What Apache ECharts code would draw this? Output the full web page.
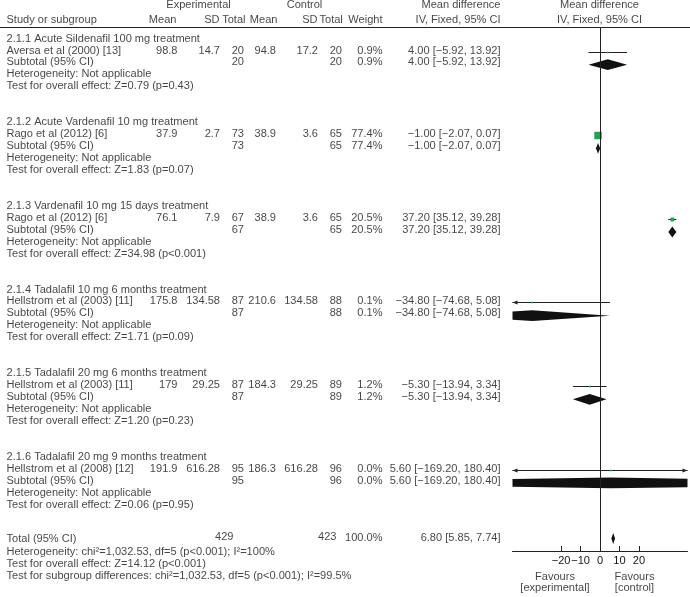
<!DOCTYPE html>
<html>
<head>
<meta charset="utf-8">
<script src="https://cdn.jsdelivr.net/npm/echarts@6/dist/echarts.min.js"></script>
<style>html,body{margin:0;padding:0;background:#fff}#c{width:690px;height:597px}</style>
</head>
<body>
<div id="c"></div>
<script>
// ---------------- data ----------------
const groupTitles = [
  '2.1.1 Acute Sildenafil 100 mg treatment',
  '2.1.2 Acute Vardenafil 10 mg treatment',
  '2.1.3 Vardenafil 10 mg 15 days treatment',
  '2.1.4 Tadalafil 10 mg 6 months treatment',
  '2.1.5 Tadalafil 20 mg 6 months treatment',
  '2.1.6 Tadalafil 20 mg 9 months treatment'
];
const studies = [
  'Aversa et al (2000) [13]',
  'Rago et al (2012) [6]',
  'Rago et al (2012) [6]',
  'Hellstrom et al (2003) [11]',
  'Hellstrom et al (2003) [11]',
  'Hellstrom et al (2008) [12]'
];
const expMean = ['98.8', '37.9', '76.1', '175.8', '179', '191.9'];
const expSD = ['14.7', '2.7', '7.9', '134.58', '29.25', '616.28'];
const expTotal = [20, 73, 67, 87, 87, 95];
const ctlMean = ['94.8', '38.9', '38.9', '210.6', '184.3', '186.3'];
const ctlSD = ['17.2', '3.6', '3.6', '134.58', '29.25', '616.28'];
const ctlTotal = [20, 65, 65, 88, 89, 96];
const weights = [0.9, 77.4, 20.5, 0.1, 1.2, 0.0];
const md = [4.00, -1.00, 37.20, -34.80, -5.30, 5.60];
const ciLow = [-5.92, -2.07, 35.12, -74.68, -13.94, -169.20];
const ciHigh = [13.92, 0.07, 39.28, 5.08, 3.34, 180.40];
const overallEffect = ['Z=0.79 (p=0.43)', 'Z=1.83 (p=0.07)', 'Z=34.98 (p<0.001)', 'Z=1.71 (p=0.09)', 'Z=1.20 (p=0.23)', 'Z=0.06 (p=0.95)'];
const totalN = [429, 423];
const totalWeight = 100.0;
const totalMD = [6.80, 5.85, 7.74];
const totalLines = [
  'Heterogeneity: chi\u00B2=1,032.53, df=5 (p<0.001); I\u00B2=100%',
  'Test for overall effect: Z=14.12 (p<0.001)',
  'Test for subgroup differences: chi\u00B2=1,032.53, df=5 (p<0.001); I\u00B2=99.5%'
];
const axisTicks = [-20, -10, 0, 10, 20];
const xRange = [-45, 45];

// ---------------- layout ----------------
const W = 690, H = 597;
const ROW0 = 39, ROWH = 11.95;
const FX0 = 512.5, FW = 175, AXIS_Y = 551;
const FONT = "'Liberation Sans', Arial, Helvetica, sans-serif";
const FS = 11.05;
const TXT = '#141414';
const GREEN = '#1ea54b';
const COL = {name: 7, expMean: 178, expSD: 220.5, expTotal: 244.5, ctlMean: 276.5, ctlSD: 318.5, ctlTotal: 342.5, weight: 383, md: 501, plot: 600};

function fmt(v, d) { const s = Math.abs(v).toFixed(d); return v < 0 ? '\u2212' + s : s; }
function mdText(m, lo, hi) { return fmt(m, 2) + ' [' + fmt(lo, 2) + ', ' + fmt(hi, 2) + ']'; }

// ---------------- text cells ----------------
const texts = [];
function T(x, row, t, align) { texts.push({value: [x, row], t: String(t), align: align || 'right'}); }

// headers
T(199, -2.8, 'Experimental', 'center');
T(305, -2.8, 'Control', 'center');
T(COL.md, -2.8, 'Mean difference');
T(COL.plot, -2.8, 'Mean difference', 'center');
T(COL.name, -1.55, 'Study or subgroup', 'left');
T(177, -1.55, 'Mean');
T(220, -1.55, 'SD');
T(246, -1.55, 'Total');
T(278, -1.55, 'Mean');
T(318, -1.55, 'SD');
T(343.3, -1.55, 'Total');
T(COL.weight, -1.55, 'Weight');
T(COL.md, -1.55, 'IV, Fixed, 95% CI');
T(COL.plot, -1.55, 'IV, Fixed, 95% CI', 'center');

const studyRows = [], subRows = [];
groupTitles.forEach((g, i) => {
  const b = i * 7;
  studyRows.push(b + 1); subRows.push(b + 2);
  T(COL.name, b, g, 'left');
  T(COL.name, b + 1, studies[i], 'left');
  T(COL.expMean, b + 1, expMean[i]);
  T(COL.expSD, b + 1, expSD[i]);
  T(COL.expTotal, b + 1, expTotal[i]);
  T(COL.ctlMean, b + 1, ctlMean[i]);
  T(COL.ctlSD, b + 1, ctlSD[i]);
  T(COL.ctlTotal, b + 1, ctlTotal[i]);
  T(COL.weight, b + 1, weights[i].toFixed(1) + '%');
  T(COL.md, b + 1, mdText(md[i], ciLow[i], ciHigh[i]));
  T(COL.name, b + 2, 'Subtotal (95% CI)', 'left');
  T(COL.expTotal, b + 2, expTotal[i]);
  T(COL.ctlTotal, b + 2, ctlTotal[i]);
  T(COL.weight, b + 2, weights[i].toFixed(1) + '%');
  T(COL.md, b + 2, mdText(md[i], ciLow[i], ciHigh[i]));
  T(COL.name, b + 3, 'Heterogeneity: Not applicable', 'left');
  T(COL.name, b + 4, 'Test for overall effect: ' + overallEffect[i], 'left');
});
const TR = 41.8;
T(COL.name, TR + 0.05, 'Total (95% CI)', 'left');
T(234, TR - 0.1, totalN[0]);
T(337, TR - 0.1, totalN[1]);
T(COL.weight, TR, totalWeight.toFixed(1) + '%');
T(COL.md, TR, mdText(totalMD[0], totalMD[1], totalMD[2]));
totalLines.forEach((t, k) => T(COL.name, 43 + k, t, 'left'));
T(555.5, 45.05, 'Favours', 'center');
T(555.5, 45.95, '[experimental]', 'center');
T(635, 45.05, 'Favours', 'center');
T(635, 45.95, '[control]', 'center');

// ---------------- forest marks ----------------
const studyData = md.map((m, i) => [m, ciLow[i], ciHigh[i], studyRows[i] + 0.05, weights[i]]);
const diamondData = md.map((m, i) => [m, ciLow[i], ciHigh[i], subRows[i] + 0.15]);
diamondData.push([totalMD[0], totalMD[1], totalMD[2], 41.8]);

function clipPolyX(pts, xmin, xmax) {
  function clip(points, inside, inter) {
    const out = [];
    for (let i = 0; i < points.length; i++) {
      const a = points[i], b = points[(i + 1) % points.length];
      const ia = inside(a), ib = inside(b);
      if (ia) out.push(a);
      if (ia !== ib) out.push(inter(a, b));
    }
    return out;
  }
  const ix = (X) => (a, b) => { const t = (X - a[0]) / (b[0] - a[0]); return [X, a[1] + t * (b[1] - a[1])]; };
  let p = clip(pts, q => q[0] >= xmin, ix(xmin));
  p = clip(p, q => q[0] <= xmax, ix(xmax));
  return p;
}

function renderStudy(params, api) {
  const m = api.value(0), lo = api.value(1), hi = api.value(2), row = api.value(3), w = api.value(4);
  const p1 = api.coord([Math.max(lo, xRange[0]), row]);
  const p2 = api.coord([Math.min(hi, xRange[1]), row]);
  const pc = api.coord([m, row]);
  const y = Math.round(p1[1]) + 0.5;
  const ch = [{type: 'line', shape: {x1: p1[0], y1: y, x2: p2[0], y2: y}, style: {stroke: '#222', lineWidth: 1}}];
  if (lo < xRange[0]) ch.push({type: 'polygon', shape: {points: [[p1[0], y], [p1[0] + 5, y - 2], [p1[0] + 5, y + 2]]}, style: {fill: '#222'}});
  if (hi > xRange[1]) ch.push({type: 'polygon', shape: {points: [[p2[0], y], [p2[0] - 5, y - 2], [p2[0] - 5, y + 2]]}, style: {fill: '#222'}});
  const s = Math.max(1.6, 0.85 * Math.sqrt(w));
  ch.push({type: 'rect', shape: {x: pc[0] - s / 2, y: y - s / 2, width: s, height: s}, style: {fill: GREEN}});
  return {type: 'group', children: ch};
}

function renderDiamond(params, api) {
  const m = api.value(0), lo = api.value(1), hi = api.value(2), row = api.value(3);
  const pl = api.coord([lo, row]), pr = api.coord([hi, row]), pc = api.coord([m, row]);
  const h = 5.4;
  const pts = [[pl[0], pc[1]], [pc[0], pc[1] - h], [pr[0], pc[1]], [pc[0], pc[1] + h]];
  const x0 = api.coord([xRange[0], row])[0], x1 = api.coord([xRange[1], row])[0];
  return {type: 'polygon', shape: {points: clipPolyX(pts, x0, x1)}, style: {fill: '#111'}};
}

const forestTop = ROW0 - ROWH;
const forestMax = -1 + (AXIS_Y - forestTop) / ROWH;

const option = {
  animation: false,
  grid: [
    {left: 0, top: 0, width: W, height: H},
    {left: FX0, top: forestTop, width: FW, height: AXIS_Y - forestTop}
  ],
  xAxis: [
    {gridIndex: 0, type: 'value', min: 0, max: W, show: false},
    {gridIndex: 1, type: 'value', min: xRange[0], max: xRange[1], position: 'bottom',
      axisLine: {show: true, onZero: false, lineStyle: {color: '#222', width: 1}},
      axisTick: {show: true, inside: true, length: 5, customValues: axisTicks, lineStyle: {color: '#222', width: 1}},
      axisLabel: {show: true, customValues: axisTicks, margin: 4, color: TXT, fontFamily: FONT, fontSize: FS,
        formatter: v => fmt(v, 0)},
      splitLine: {show: false}}
  ],
  yAxis: [
    {gridIndex: 0, type: 'value', inverse: true, min: -ROW0 / ROWH, max: (H - ROW0) / ROWH, show: false},
    {gridIndex: 1, type: 'value', inverse: true, min: -1, max: forestMax, show: false}
  ],
  series: [
    {type: 'line', xAxisIndex: 0, yAxisIndex: 0, data: [], silent: true,
      markLine: {silent: true, symbol: 'none', label: {show: false}, lineStyle: {color: '#222', width: 1, type: 'solid'}, data: [{yAxis: -1}]}},
    {type: 'line', xAxisIndex: 1, yAxisIndex: 1, data: [], silent: true,
      markLine: {silent: true, symbol: 'none', label: {show: false}, lineStyle: {color: '#222', width: 1, type: 'solid'}, data: [{xAxis: 0}]}},
    {type: 'scatter', xAxisIndex: 0, yAxisIndex: 0, silent: true, symbolSize: 1,
      itemStyle: {color: 'rgba(0,0,0,0)'},
      data: texts.map(d => ({value: d.value, t: d.t, label: {align: d.align}})),
      label: {show: true, position: [0, 0], verticalAlign: 'middle', color: TXT, fontFamily: FONT, fontSize: FS,
        formatter: p => p.data.t}},
    {type: 'custom', xAxisIndex: 1, yAxisIndex: 1, silent: true, renderItem: renderDiamond, data: diamondData},
    {type: 'custom', xAxisIndex: 1, yAxisIndex: 1, silent: true, renderItem: renderStudy, data: studyData}
  ]
};
const chart = echarts.init(document.getElementById('c'), null, {renderer: 'canvas'});
chart.setOption(option);
</script>
</body>
</html>
